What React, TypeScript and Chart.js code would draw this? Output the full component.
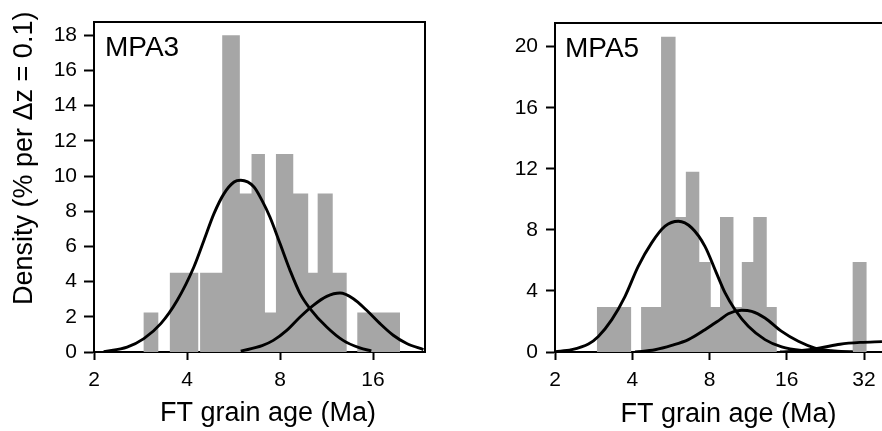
import React, { useEffect, useRef } from "react";
import { Chart, registerables } from "chart.js";

Chart.register(...registerables);

const FONT = "'Liberation Sans', Arial, sans-serif";

// ---------- axis ticks ----------
const mpa3XTicks = [2, 4, 8, 16];
const mpa3YTicks = [0, 2, 4, 6, 8, 10, 12, 14, 16, 18];
const mpa5XTicks = [2, 4, 8, 16, 32];
const mpa5YTicks = [0, 4, 8, 12, 16, 20];

// ---------- MPA3 histogram (bin edges in Ma, density %) ----------
const mpa3BinLo = [2.89, 3.52, 4.41, 5.2, 5.93, 6.47, 7.15, 7.76, 8.83, 9.87, 10.59, 11.85, 14.23];
const mpa3BinHi = [3.23, 4.35, 5.2, 5.93, 6.47, 7.15, 7.76, 8.83, 9.87, 10.59, 11.85, 13.15, 19.57];
const mpa3Density = [2.25, 4.5, 4.5, 18, 9, 11.25, 2.25, 11.25, 9, 4.5, 9, 4.5, 2.25];

// MPA3 component curves
const mpa3PeakAAge = [2.15, 2.56, 2.9, 3.29, 3.72, 4.21, 4.54, 4.89, 5.27, 5.68, 5.97, 6.59, 7.0, 7.42, 8.0, 8.62, 9.29, 10.0, 11.33, 12.8, 14.5, 15.8];
const mpa3PeakADens = [0.02, 0.28, 0.76, 1.61, 2.94, 4.83, 6.35, 7.86, 9.0, 9.66, 9.76, 9.38, 8.6, 7.67, 6.16, 4.64, 3.32, 2.47, 1.42, 0.66, 0.23, 0.06];
const mpa3PeakBAge = [5.97, 7.0, 7.61, 8.41, 9.29, 10.25, 11.33, 12.51, 13.82, 15.26, 16.86, 18.6, 20.57, 23.3];
const mpa3PeakBDens = [0.05, 0.36, 0.66, 1.23, 1.99, 2.65, 3.16, 3.35, 3.03, 2.37, 1.61, 0.95, 0.48, 0.14];

// ---------- MPA5 histogram ----------
const mpa5BinLo = [2.91, 4.33, 5.18, 5.9, 6.47, 7.3, 8.09, 8.79, 9.92, 10.69, 11.85, 13.37, 28.9];
const mpa5BinHi = [3.96, 5.18, 5.9, 6.47, 7.3, 8.09, 8.79, 9.92, 10.69, 11.85, 13.37, 14.63, 32.8];
const mpa5Density = [2.95, 2.95, 20.65, 8.85, 11.8, 5.9, 2.95, 8.85, 2.95, 5.9, 8.85, 2.95, 5.9];

// MPA5 component curves
const mpa5PeakAAge = [2.0, 2.32, 2.7, 2.95, 3.33, 3.75, 4.22, 4.76, 5.37, 6.05, 6.82, 7.68, 8.5, 9.2, 10.06, 11.33, 13.16, 15.29, 18.3, 23.9, 28.9];
const mpa5PeakADens = [0.02, 0.15, 0.52, 1.02, 2.12, 3.65, 5.61, 7.15, 8.24, 8.56, 8.13, 6.92, 5.2, 3.87, 2.77, 1.68, 0.81, 0.33, 0.1, 0.02, 0.0];
const mpa5PeakBAge = [4.1, 4.91, 5.7, 6.62, 7.68, 8.4, 8.79, 9.47, 10.68, 11.68, 13.16, 15.29, 17.75, 20.62, 23.9, 28.9];
const mpa5PeakBDens = [0.0, 0.15, 0.43, 0.81, 1.46, 1.9, 2.12, 2.51, 2.73, 2.66, 2.23, 1.35, 0.7, 0.26, 0.08, 0.0];
const mpa5PeakCAge = [15.06, 18.0, 21.56, 25.8, 30.9, 37.6];
const mpa5PeakCDens = [0.0, 0.08, 0.26, 0.51, 0.63, 0.68];

type Pt = { x: number; y: number };

function histPoints(lo: number[], hi: number[], h: number[]): Pt[] {
  const pts: Pt[] = [];
  lo.forEach((l, i) => {
    pts.push({ x: l, y: 0 }, { x: l, y: h[i] }, { x: hi[i], y: h[i] }, { x: hi[i], y: 0 });
  });
  return pts;
}

function curvePoints(ages: number[], dens: number[]): Pt[] {
  return ages.map((a, i) => ({ x: a, y: dens[i] }));
}

const framePlugin = {
  id: "frameBox",
  afterDraw(chart: any) {
    const { ctx, chartArea: a } = chart;
    ctx.save();
    ctx.strokeStyle = "#000";
    ctx.lineWidth = 2;
    ctx.beginPath();
    ctx.moveTo(a.left, a.top);
    ctx.lineTo(a.right, a.top);
    ctx.lineTo(a.right, a.bottom);
    ctx.stroke();
    ctx.restore();
  },
};

const textPlugin = {
  id: "panelText",
  afterDraw(chart: any, _args: any, opts: any) {
    const { ctx, chartArea: a } = chart;
    ctx.save();
    ctx.fillStyle = "#000";
    ctx.textBaseline = "alphabetic";
    ctx.textAlign = "left";
    ctx.font = `28px ${FONT}`;
    ctx.fillText(opts.label, a.left + opts.labelDx, opts.labelY);
    ctx.font = `27px ${FONT}`;
    ctx.textAlign = "center";
    ctx.fillText(opts.xTitle, opts.xTitleX, opts.xTitleY);
    if (opts.yTitle) {
      ctx.translate(opts.yTitleX, opts.yTitleY);
      ctx.rotate(-Math.PI / 2);
      ctx.textAlign = "left";
      ctx.fillText(opts.yTitle, 0, 0);
    }
    ctx.restore();
  },
};

type PanelSpec = {
  left: number;
  width: number;
  padTop: number;
  padRight: number;
  yWidth: number;
  xMax: number;
  yMax: number;
  xTicks: number[];
  yTicks: number[];
  yTickLen: number;
  yTickPad: number;
  bars: Pt[];
  curves: Pt[][];
  text: any;
};

function Panel({ spec }: { spec: PanelSpec }) {
  const ref = useRef<HTMLCanvasElement | null>(null);
  useEffect(() => {
    if (!ref.current) return;
    const tickFont = { family: FONT, size: 21 };
    const chart = new Chart(ref.current, {
      type: "line",
      data: {
        datasets: [
          {
            data: spec.bars,
            fill: "origin",
            backgroundColor: "#a6a6a6",
            borderWidth: 0,
            borderColor: "rgba(0,0,0,0)",
            pointRadius: 0,
            tension: 0,
            order: 2,
          } as any,
          ...spec.curves.map((c) => ({
            data: c,
            fill: false,
            borderColor: "#000",
            borderWidth: 2.9,
            pointRadius: 0,
            cubicInterpolationMode: "monotone",
            order: 1,
          })),
        ],
      },
      options: {
        animation: false,
        responsive: false,
        maintainAspectRatio: false,
        devicePixelRatio: 1,
        events: [],
        layout: { padding: { top: spec.padTop, right: spec.padRight, left: 0, bottom: 0 } },
        plugins: {
          legend: { display: false },
          tooltip: { enabled: false },
          panelText: spec.text,
        } as any,
        scales: {
          x: {
            type: "logarithmic",
            min: 2,
            max: spec.xMax,
            afterBuildTicks: (s: any) => {
              s.ticks = spec.xTicks.map((v) => ({ value: v }));
            },
            afterFit: (s: any) => {
              s.height = 79;
            },
            ticks: {
              autoSkip: false,
              maxRotation: 0,
              font: tickFont,
              color: "#000",
              padding: 8,
              callback: (v: any) => String(v),
            },
            grid: {
              display: true,
              drawOnChartArea: false,
              drawTicks: true,
              tickLength: 8,
              tickColor: "#000",
              tickWidth: 2,
              color: "#000",
            },
            border: { display: true, color: "#000", width: 2 },
          },
          y: {
            type: "linear",
            min: 0,
            max: spec.yMax,
            afterBuildTicks: (s: any) => {
              s.ticks = spec.yTicks.map((v) => ({ value: v }));
            },
            afterFit: (s: any) => {
              s.width = spec.yWidth;
            },
            ticks: {
              autoSkip: false,
              font: tickFont,
              color: "#000",
              padding: spec.yTickPad,
              callback: (v: any) => String(v),
            },
            grid: {
              display: true,
              drawOnChartArea: false,
              drawTicks: true,
              tickLength: spec.yTickLen,
              tickColor: "#000",
              tickWidth: 2,
              color: "#000",
            },
            border: { display: true, color: "#000", width: 2 },
          },
        },
      } as any,
      plugins: [framePlugin, textPlugin],
    });
    return () => chart.destroy();
  }, [spec]);

  return (
    <canvas
      ref={ref}
      width={spec.width}
      height={431}
      style={{ position: "absolute", left: spec.left, top: 0, width: spec.width, height: 431 }}
    />
  );
}

const mpa3Spec: PanelSpec = {
  left: 0,
  width: 441,
  padTop: 22,
  padRight: 16,
  yWidth: 94,
  xMax: 23.57,
  yMax: 18.75,
  xTicks: mpa3XTicks,
  yTicks: mpa3YTicks,
  yTickLen: 10,
  yTickPad: 7,
  bars: histPoints(mpa3BinLo, mpa3BinHi, mpa3Density),
  curves: [curvePoints(mpa3PeakAAge, mpa3PeakADens), curvePoints(mpa3PeakBAge, mpa3PeakBDens)],
  text: {
    label: "MPA3",
    labelDx: 11,
    labelY: 56,
    xTitle: "FT grain age (Ma)",
    xTitleX: 268,
    xTitleY: 421,
    yTitle: "Density (% per \u0394z = 0.1)",
    yTitleX: 31.5,
    yTitleY: 305,
  },
};

const mpa5Spec: PanelSpec = {
  left: 441,
  width: 459,
  padTop: 23,
  padRight: 0,
  yWidth: 114,
  xMax: 44.2,
  yMax: 21.55,
  xTicks: mpa5XTicks,
  yTicks: mpa5YTicks,
  yTickLen: 9,
  yTickPad: 8,
  bars: histPoints(mpa5BinLo, mpa5BinHi, mpa5Density),
  curves: [
    curvePoints(mpa5PeakAAge, mpa5PeakADens),
    curvePoints(mpa5PeakBAge, mpa5PeakBDens),
    curvePoints(mpa5PeakCAge, mpa5PeakCDens),
  ],
  text: {
    label: "MPA5",
    labelDx: 10,
    labelY: 57,
    xTitle: "FT grain age (Ma)",
    xTitleX: 287.5,
    xTitleY: 422,
  },
};

export default function App() {
  return (
    <div
      style={{
        position: "absolute",
        left: 0,
        top: 0,
        width: 882,
        height: 431,
        overflow: "hidden",
        background: "#fff",
      }}
    >
      <Panel spec={mpa3Spec} />
      <Panel spec={mpa5Spec} />
    </div>
  );
}
